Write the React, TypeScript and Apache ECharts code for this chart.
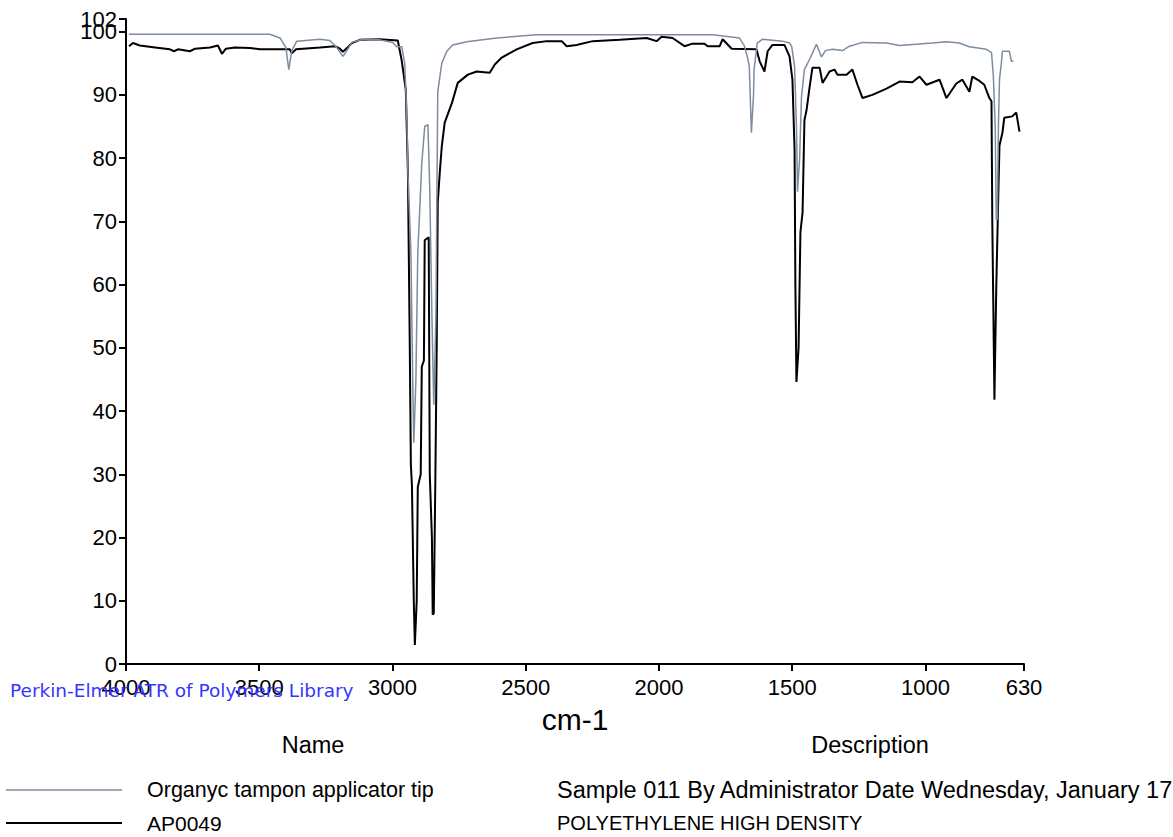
import React, { useEffect, useRef } from "react";
import * as echarts from "echarts";

const xTickValues = [4000, 3500, 3000, 2500, 2000, 1500, 1000, 630];
const yTickValues = [0, 10, 20, 30, 40, 50, 60, 70, 80, 90, 100];
const yTopTickValues = [102];

const sampleName = "Organyc tampon applicator tip";
const sampleDescription = "Sample 011 By Administrator Date Wednesday, January 17";
const refName = "AP0049";
const refDescription = "POLYETHYLENE HIGH DENSITY";
const watermark = "Perkin-Elmer ATR of Polymers Library";
const xAxisTitle = "cm-1";
const nameHeader = "Name";
const descHeader = "Description";

const sampleWavenumbers = [
  3989, 3460, 3422, 3400, 3389, 3378, 3359, 3272, 3235, 3209, 3186, 3171, 3152, 3111, 3048, 2999,
  2984, 2965, 2954, 2946, 2942, 2931, 2924, 2920, 2912, 2905, 2890, 2879, 2867, 2860, 2852, 2845,
  2837, 2834, 2830, 2815, 2796, 2774, 2721, 2609, 2459, 2174, 1799, 1698, 1680, 1668, 1661, 1653,
  1645, 1643, 1631, 1611, 1536, 1510, 1502, 1491, 1484, 1480, 1472, 1465, 1454, 1435, 1424, 1409,
  1390, 1375, 1349, 1311, 1285, 1236, 1146, 1097, 974, 921, 873, 835, 771, 752, 745, 738, 734, 730,
  726, 722, 715, 711, 685, 677, 670,
];
const sampleValues = [
  99.6, 99.6, 99.0, 97.5, 94.0, 97.0, 98.5, 98.8, 98.6, 97.5, 96.1, 97.0, 98.3, 98.8, 98.7, 98.3,
  97.6, 97.6, 95.0, 86.6, 77.7, 65.5, 45.0, 35.0, 45.0, 65.0, 79.2, 85.0, 85.3, 75.0, 55.0, 41.0,
  55.0, 70.7, 90.5, 95.0, 96.9, 97.9, 98.4, 99.0, 99.5, 99.5, 99.5, 99.0, 97.8, 96.0, 94.5, 84.0,
  90.0, 94.0, 98.2, 98.8, 98.5, 98.2, 97.7, 94.5, 85.0, 74.7, 80.0, 89.7, 94.0, 95.6, 96.6, 98.0,
  96.0, 97.0, 97.2, 97.0, 97.7, 98.3, 98.2, 97.8, 98.2, 98.4, 98.2, 97.6, 97.2, 96.7, 93.0, 85.0,
  70.3, 70.3, 85.0, 92.4, 95.0, 96.9, 96.9, 95.3, 95.3,
];

const refWavenumbers = [
  3989, 3974, 3948, 3891, 3835, 3820, 3805, 3760, 3741, 3685, 3655, 3640, 3625, 3591, 3535, 3497,
  3385, 3378, 3362, 3272, 3216, 3197, 3186, 3171, 3152, 3122, 3048, 2980, 2966, 2950, 2942, 2935,
  2931, 2927, 2920, 2916, 2909, 2905, 2894, 2890, 2882, 2879, 2864, 2860, 2852, 2849, 2845, 2839,
  2834, 2830, 2822, 2815, 2804, 2777, 2755, 2717, 2684, 2635, 2616, 2590, 2534, 2474, 2421, 2365,
  2346, 2309, 2249, 2147, 2046, 2009, 1990, 1949, 1904, 1874, 1829, 1817, 1772, 1761, 1727, 1634,
  1622, 1604, 1592, 1574, 1529, 1510, 1499, 1491, 1488, 1484, 1476, 1469, 1461, 1454, 1446, 1435,
  1424, 1397, 1386, 1371, 1360, 1341, 1330, 1296, 1274, 1255, 1236, 1199, 1146, 1097, 1049, 1022,
  996, 947, 921, 884, 861, 835, 824, 797, 779, 760, 752, 749, 745, 741, 734, 726, 722, 711, 704,
  674, 659, 647,
];
const refValues = [
  97.7, 98.2, 97.8, 97.5, 97.2, 96.9, 97.2, 96.9, 97.3, 97.5, 97.8, 96.5, 97.3, 97.5, 97.4, 97.2,
  97.2, 96.6, 97.2, 97.5, 97.7, 97.3, 96.8, 97.4, 98.2, 98.7, 98.8, 98.6, 95.6, 90.8, 77.7, 50.0,
  31.5, 28.3, 10.0, 3.0, 10.0, 28.0, 30.0, 47.0, 48.0, 67.0, 67.5, 30.0, 20.0, 7.8, 8.0, 29.4,
  50.0, 73.0, 78.0, 81.8, 85.6, 88.7, 91.9, 93.2, 93.7, 93.5, 94.8, 95.9, 97.2, 98.2, 98.5, 98.5,
  97.7, 97.9, 98.5, 98.7, 99.0, 98.5, 99.2, 99.0, 97.7, 98.1, 98.1, 97.7, 97.7, 98.8, 97.3, 97.2,
  95.3, 93.7, 96.9, 97.9, 97.9, 96.1, 92.4, 81.3, 60.0, 44.6, 50.0, 68.3, 71.4, 86.0, 87.6, 91.1,
  94.3, 94.3, 91.9, 92.9, 93.7, 94.0, 93.2, 93.2, 94.0, 91.6, 89.5, 90.0, 91.0, 92.1, 92.0, 92.9,
  91.6, 92.4, 89.5, 91.8, 92.4, 90.5, 92.9, 92.2, 91.6, 89.5, 89.0, 70.0, 56.0, 41.8, 59.7, 75.0,
  82.0, 84.0, 86.4, 86.6, 87.2, 84.2,
];

const FONT = "'Liberation Sans', Arial, sans-serif";
const GRAY = "#7d8d9d";
const plain = (v: number) => String(v);

export default function App() {
  const ref = useRef<HTMLDivElement>(null);

  useEffect(() => {
    if (!ref.current) return;
    const chart = echarts.init(ref.current, undefined, { renderer: "svg" });
    const sampleData = sampleWavenumbers.map((w, i) => [w, sampleValues[i]]);
    const refData = refWavenumbers.map((w, i) => [w, refValues[i]]);

    const yBase = {
      type: "value",
      min: 0,
      max: 102,
      position: "left",
      offset: 0,
      splitLine: { show: false },
    };

    chart.setOption({
      animation: false,
      backgroundColor: "#ffffff",
      grid: { left: 126, right: 149, top: 19, bottom: 173, containLabel: false },
      xAxis: {
        type: "value",
        inverse: true,
        min: 630,
        max: 4000,
        name: xAxisTitle,
        nameLocation: "middle",
        nameGap: 40,
        nameTextStyle: { fontSize: 30, fontFamily: FONT, color: "#000" },
        axisLine: { show: true, onZero: false, lineStyle: { color: "#000", width: 2 } },
        axisTick: { show: true, length: 7, customValues: xTickValues, lineStyle: { color: "#000", width: 2 } },
        axisLabel: {
          customValues: xTickValues,
          formatter: plain,
          fontSize: 22,
          fontFamily: FONT,
          color: "#000",
          margin: 12,
          showMinLabel: true,
          showMaxLabel: true,
        },
        splitLine: { show: false },
      },
      yAxis: [
        {
          ...yBase,
          axisLine: { show: true, onZero: false, lineStyle: { color: "#000", width: 2 } },
          axisTick: { show: true, length: 7, customValues: yTickValues, lineStyle: { color: "#000", width: 2 } },
          axisLabel: {
            customValues: yTickValues,
            formatter: plain,
            fontSize: 22,
            fontFamily: FONT,
            color: "#000",
            margin: 9,
            showMinLabel: true,
            showMaxLabel: true,
          },
        },
        {
          ...yBase,
          axisLine: { show: false },
          axisTick: { show: true, length: 7, customValues: yTopTickValues, lineStyle: { color: "#000", width: 2 } },
          axisLabel: {
            customValues: yTopTickValues,
            formatter: plain,
            fontSize: 22,
            fontFamily: FONT,
            color: "#000",
            margin: 9,
            showMinLabel: true,
            showMaxLabel: true,
          },
        },
      ],
      series: [
        {
          name: refName,
          type: "line",
          yAxisIndex: 0,
          data: refData,
          showSymbol: false,
          symbol: "none",
          lineStyle: { color: "#000", width: 2 },
          z: 2,
        },
        {
          name: sampleName,
          type: "line",
          yAxisIndex: 0,
          data: sampleData,
          showSymbol: false,
          symbol: "none",
          lineStyle: { color: GRAY, width: 1.5 },
          z: 3,
        },
      ],
      graphic: [
        {
          type: "text",
          left: 10,
          top: 681,
          style: { text: watermark, fontSize: 18.5, fontFamily: "'DejaVu Sans', sans-serif", fill: "#3535ff" },
          z: 10,
        },
        {
          type: "text",
          x: 313,
          y: 745,
          style: { text: nameHeader, fontSize: 23.5, fontFamily: FONT, fill: "#000", align: "center", verticalAlign: "middle" },
        },
        {
          type: "text",
          x: 870,
          y: 745,
          style: { text: descHeader, fontSize: 23.5, fontFamily: FONT, fill: "#000", align: "center", verticalAlign: "middle" },
        },
        {
          type: "line",
          shape: { x1: 6, y1: 790, x2: 122, y2: 790 },
          style: { stroke: GRAY, lineWidth: 1.5 },
        },
        {
          type: "text",
          x: 147,
          y: 790,
          style: { text: sampleName, fontSize: 21.5, fontFamily: FONT, fill: "#000", verticalAlign: "middle" },
        },
        {
          type: "text",
          x: 557,
          y: 790,
          style: { text: sampleDescription, fontSize: 23.5, fontFamily: FONT, fill: "#000", verticalAlign: "middle" },
        },
        {
          type: "line",
          shape: { x1: 6, y1: 823, x2: 122, y2: 823 },
          style: { stroke: "#000", lineWidth: 2 },
        },
        {
          type: "text",
          x: 147,
          y: 823,
          style: { text: refName, fontSize: 21, fontFamily: FONT, fill: "#000", verticalAlign: "middle" },
        },
        {
          type: "text",
          x: 557,
          y: 823,
          style: { text: refDescription, fontSize: 20, fontFamily: FONT, fill: "#000", verticalAlign: "middle" },
        },
      ],
    });

    return () => chart.dispose();
  }, []);

  return (
    <div
      ref={ref}
      style={{ position: "absolute", left: 0, top: 0, width: 1173, height: 837, overflow: "hidden", background: "#fff" }}
    />
  );
}
